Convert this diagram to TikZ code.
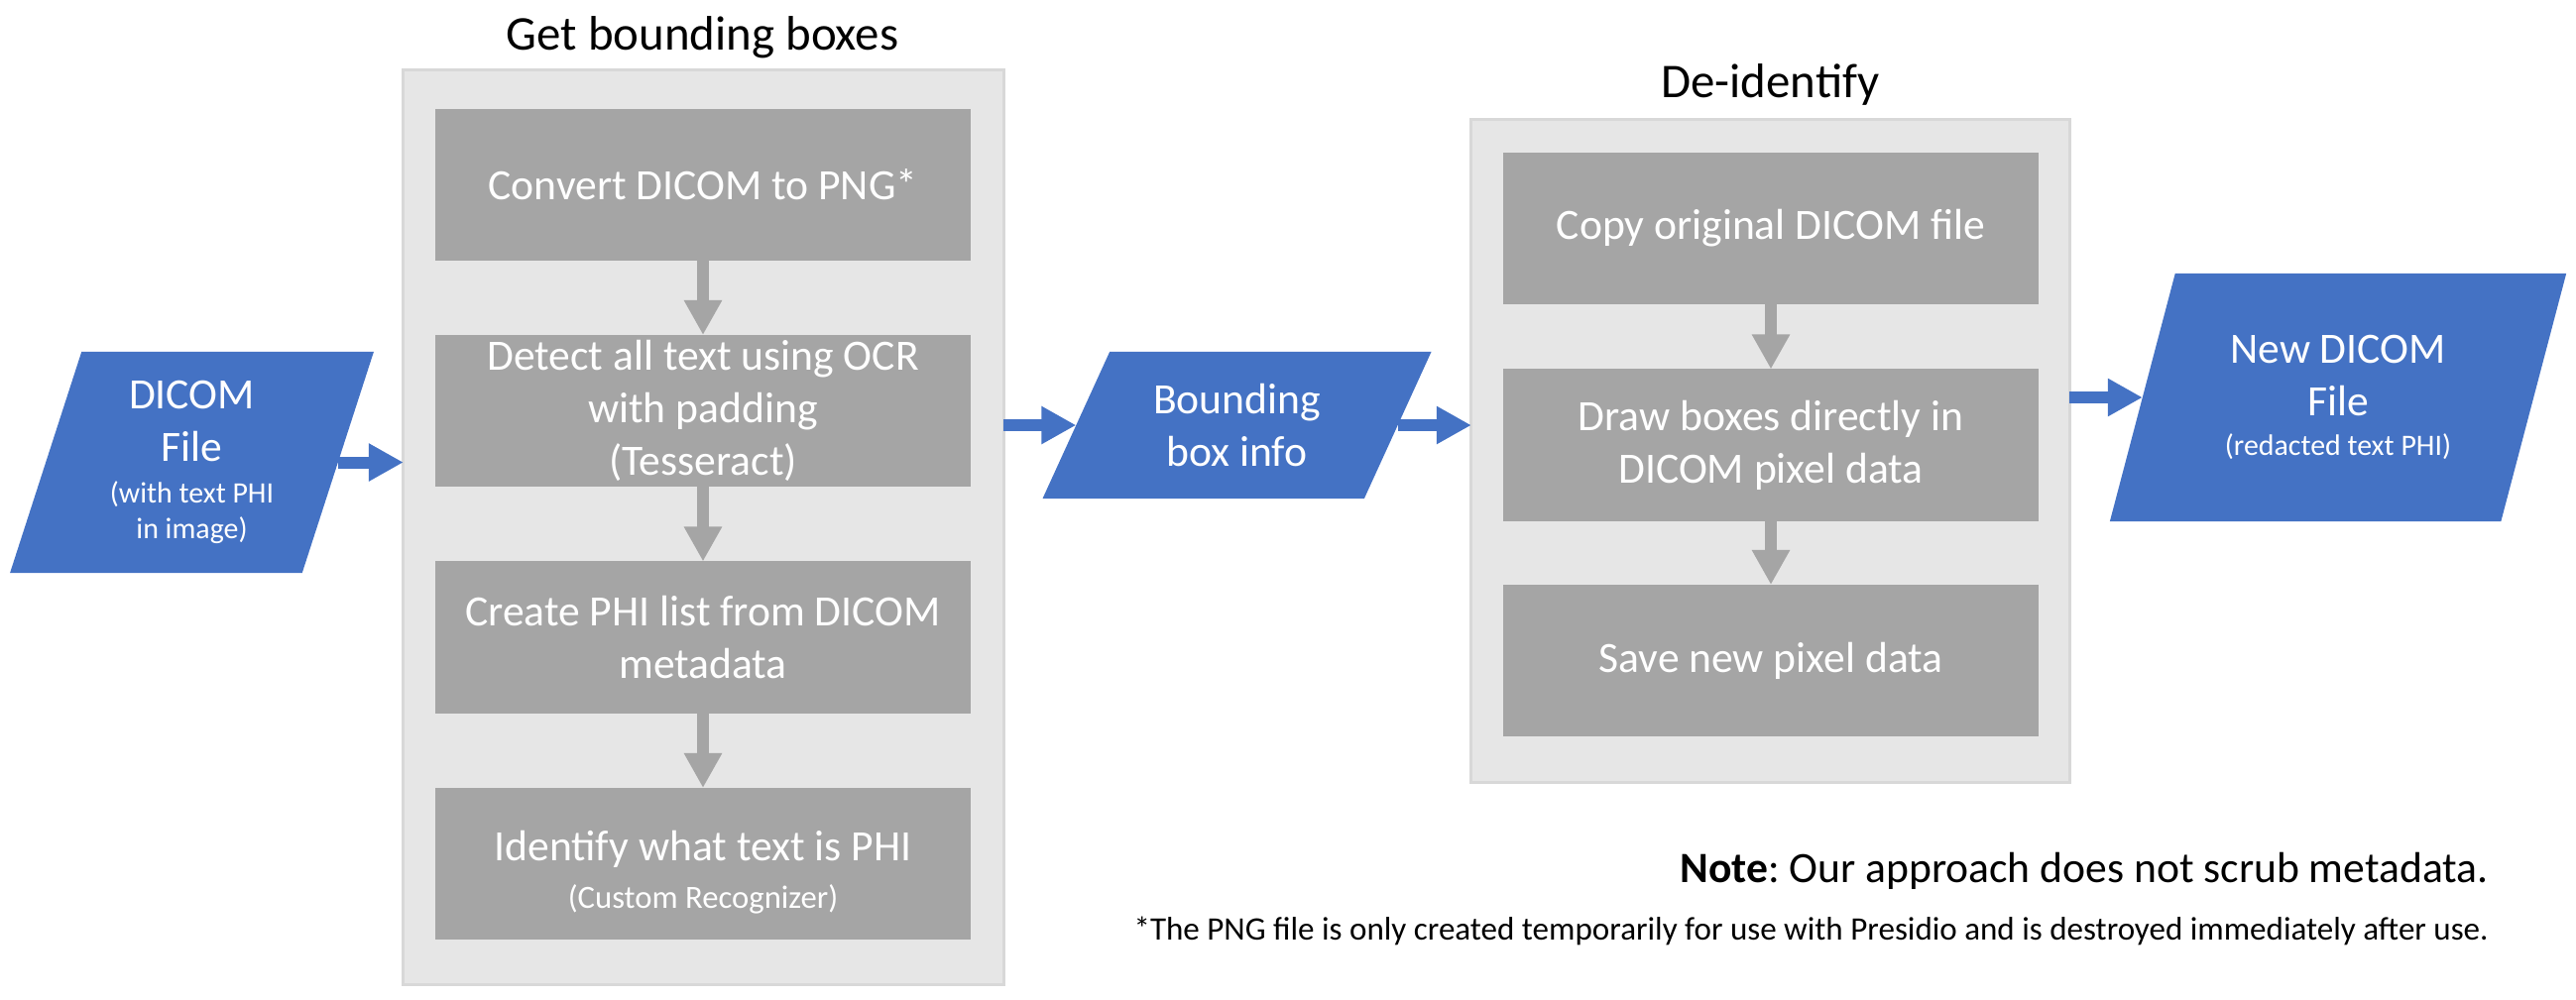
\documentclass[tikz,border=0pt]{standalone}
\usepackage{fontspec}
\setmainfont{Carlito}
\usetikzlibrary{shapes.geometric,arrows.meta}
\definecolor{fileblue}{HTML}{4472C4}
\definecolor{stepgray}{HTML}{A5A5A5}
\definecolor{panelfill}{HTML}{E6E6E6}
\definecolor{paneledge}{HTML}{D8D8D8}
\newcommand{\subfont}{\fontsize{8.5pt}{10.4pt}\selectfont}
\frenchspacing
\begin{document}
\begin{tikzpicture}[x=0.01cm, y=-0.01cm,
	panel/.style={rectangle, draw=paneledge, line width=0.9pt, fill=panelfill, inner sep=0pt, outer sep=0pt},
	paneltitle/.style={anchor=base, font=\fontsize{13.9pt}{17pt}\selectfont},
	stepbox/.style={rectangle, fill=stepgray, text=white, minimum width=5.4cm, minimum height=1.53cm, inner sep=0pt, outer sep=0pt, align=center, font=\fontsize{12.4pt}{15.1pt}\selectfont},
	datafile/.style={trapezium, trapezium stretches=true, fill=fileblue, text=white, inner sep=0pt, outer sep=0pt, align=center, font=\fontsize{12.4pt}{15.1pt}\selectfont},
	flow/.style={line width=0.12cm, -{Triangle[width=0.36cm,length=0.35cm]}}]
	\useasboundingbox (0,0) rectangle (2598,1008);
	% get bounding boxes
	\node[panel, minimum width=6.05cm, minimum height=9.22cm] (getbox) at (709.5,532) {};
	\node[paneltitle] (getboxtitle) at (708.5,50) {Get bounding boxes};
	\node[stepbox] (convert) at (709,186.5) {Convert DICOM to PNG*};
	\node[stepbox] (detect) at (709,414.5) {Detect all text using OCR\\with padding\\(Tesseract)};
	\node[stepbox] (philist) at (709,643) {Create PHI list from DICOM\\metadata};
	\node[stepbox] (identify) at (709,871.5) {};
	\node[align=center, text=white, font=\fontsize{12.4pt}{15.1pt}\selectfont] (identifytext) at (709,880)
		{Identify what text is PHI\\[-1.3pt]{\fontsize{9.3pt}{11.3pt}\selectfont (Custom Recognizer)}};
	\draw[flow, stepgray] (convert) -- (detect);
	\draw[flow, stepgray] (detect) -- (philist);
	\draw[flow, stepgray] (philist) -- (identify);
	% de-identify
	\node[panel, minimum width=6.03cm, minimum height=6.68cm] (deid) at (1785.5,455) {};
	\node[paneltitle] (deidtitle) at (1785.5,98) {De-identify};
	\node[stepbox] (copy) at (1786,230.5) {Copy original DICOM file};
	\node[stepbox] (drawbox) at (1786,449) {Draw boxes directly in\\DICOM pixel data};
	\node[stepbox] (save) at (1786,666.5) {Save new pixel data};
	\draw[flow, stepgray] (copy) -- (drawbox);
	\draw[flow, stepgray] (drawbox) -- (save);
	% files
	\node[datafile, minimum width=3.67cm, minimum height=2.23cm, trapezium left angle=72, trapezium right angle=108] (dicom) at (193.5,466.5)
		{DICOM\\File\\[-3.1pt]{\subfont (with text PHI}\\[-4.8pt]{\subfont in image)}};
	\node[datafile, minimum width=3.93cm, minimum height=1.48cm, trapezium left angle=62, trapezium right angle=118] (bbox) at (1247.5,429)
		{Bounding\\box info};
	\node[datafile, minimum width=4.6cm, minimum height=2.5cm, trapezium left angle=70, trapezium right angle=110] (newdicom) at (2358,401)
		{New DICOM\\File\\[-3.7pt]{\subfont (redacted text PHI)}};
	\draw[flow, fileblue] (dicom.right side) -- (dicom.right side -| getbox.west);
	\draw[flow, fileblue] (getbox.east |- bbox.left side) -- (bbox.left side);
	\draw[flow, fileblue] (bbox.right side) -- (bbox.right side -| deid.west);
	\draw[flow, fileblue] (deid.east |- newdicom.left side) -- (newdicom.left side);
	% notes
	\node[anchor=base east, font=\fontsize{12.4pt}{15.1pt}\selectfont] (note) at (2522,890) {\textbf{Note}: Our approach does not scrub metadata.};
	\node[anchor=base east, font=\fontsize{9.4pt}{11.5pt}\selectfont] (footnote) at (2522,948) {*The PNG file is only created temporarily for use with Presidio and is destroyed immediately after use.};
\end{tikzpicture}
\end{document}
